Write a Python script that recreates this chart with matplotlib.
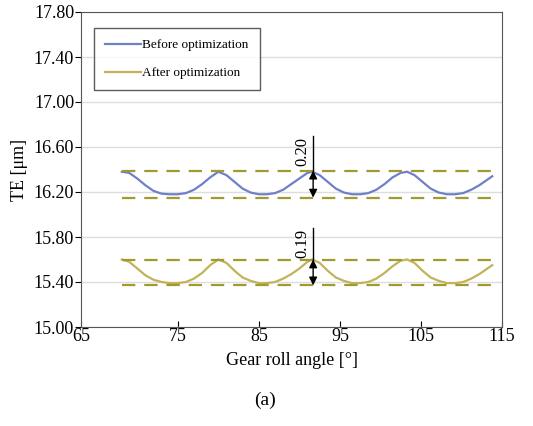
import matplotlib.pyplot as plt

plt.rcParams['font.family'] = ['Liberation Serif', 'DejaVu Serif']

# Data
x_before = [68.1, 69.0, 70.0, 71.0, 72.0, 73.0, 74.0, 75.0, 76.0, 77.0, 78.0, 79.0, 80.0,
            81.0, 82.0, 83.0, 84.0, 85.0, 86.0, 87.0, 88.0, 89.0, 90.0, 91.0, 91.6,
            92.5, 93.5, 94.5, 95.5, 96.5, 97.5, 98.5, 99.5, 100.5, 101.5, 102.5, 103.3,
            104.2, 105.2, 106.2, 107.2, 108.2, 109.2, 110.2, 111.2, 112.2, 113.0, 113.8]
te_before = [16.38, 16.37, 16.32, 16.26, 16.21, 16.185, 16.18, 16.18, 16.19, 16.22, 16.27, 16.33, 16.38,
             16.35, 16.29, 16.23, 16.195, 16.18, 16.18, 16.19, 16.22, 16.27, 16.32, 16.37, 16.38,
             16.35, 16.29, 16.23, 16.195, 16.18, 16.18, 16.19, 16.22, 16.27, 16.33, 16.37, 16.38,
             16.35, 16.29, 16.23, 16.195, 16.18, 16.18, 16.19, 16.22, 16.26, 16.30, 16.34]
x_after = x_before
te_after = [15.60, 15.58, 15.52, 15.46, 15.42, 15.40, 15.39, 15.39, 15.40, 15.43, 15.48, 15.55, 15.60,
            15.57, 15.50, 15.44, 15.41, 15.39, 15.39, 15.40, 15.43, 15.47, 15.52, 15.58, 15.60,
            15.57, 15.50, 15.44, 15.41, 15.39, 15.39, 15.40, 15.43, 15.48, 15.54, 15.59, 15.60,
            15.57, 15.50, 15.44, 15.41, 15.39, 15.39, 15.40, 15.43, 15.47, 15.51, 15.55]

band_before = [16.39, 16.15]
band_after = [15.60, 15.37]
band_x = [68.1, 114.2]
amp_labels = ["0.20", "0.19"]
amp_x = 91.7

yticks = [15.00, 15.40, 15.80, 16.20, 16.60, 17.00, 17.40, 17.80]
xtick_labels = ["65", "75", "85", "95", "105", "115"]

fig = plt.figure(figsize=(5.33, 4.26), dpi=100)
ax = fig.add_axes([81 / 533, 1 - 327 / 426, (502 - 81) / 533, (327 - 12) / 426])

ax.plot(x_before, te_before, color='#7080c8', lw=1.6, label='Before optimization')
ax.plot(x_after, te_after, color='#c2b35a', lw=1.6, label='After optimization')

dash_color = '#a09a30'
for yv in band_before + band_after:
    ax.plot(band_x, [yv, yv], color=dash_color, lw=1.6, dashes=(6, 4))

# amplitude markers
for band, lab, top in [(band_before, amp_labels[0], 16.70), (band_after, amp_labels[1], 15.88)]:
    ax.plot([amp_x, amp_x], [band[0], top], color='black', lw=1.0)
    ax.annotate('', xy=(amp_x, band[0]), xytext=(amp_x, band[1]),
                arrowprops=dict(arrowstyle='<|-|>', color='black', lw=1.0,
                                mutation_scale=12, shrinkA=0, shrinkB=0))
    ax.text(amp_x - 0.3, top - 0.01, lab, rotation=90, ha='right', va='top', fontsize=12)

ax.set_xlim(63.06, 115)
ax.set_ylim(15.0, 17.8)
ax.set_xticks([63.06, 75, 85, 95, 105, 115])
ax.set_xticklabels(xtick_labels)
ax.set_yticks(yticks)
ax.set_yticklabels([f"{v:.2f}" for v in yticks])
ax.tick_params(axis='x', direction='in', length=4, labelsize=13, pad=1)
ax.tick_params(axis='y', direction='out', length=4, labelsize=13, pad=1)
ax.grid(axis='y', color='#dddddd', lw=1.0)
ax.set_axisbelow(True)
for s in ax.spines.values():
    s.set_color('#555555')

ax.set_xlabel('Gear roll angle [°]', fontsize=13, labelpad=5)
ax.set_ylabel('TE [μm]', fontsize=13, labelpad=4)

leg = ax.legend(loc='upper left', bbox_to_anchor=(0.031, 0.95), fontsize=9.5, frameon=True,
                fancybox=False, edgecolor='#333333', handlelength=2.7, handletextpad=0.1,
                labelspacing=1.2, borderpad=0.85, borderaxespad=0)
leg.get_frame().set_linewidth(1.0)

fig.text(265 / 533, 1 - 400 / 426, '(a)', ha='center', va='center', fontsize=14)

fig.savefig('out.png', dpi=100)
